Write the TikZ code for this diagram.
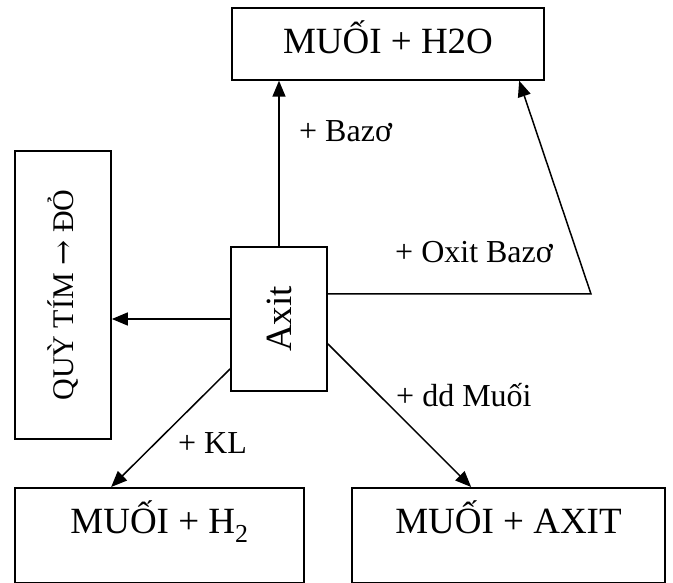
\documentclass[tikz,border=0pt]{standalone}
\usepackage{fontspec}
\setmainfont{Liberation Serif}
\newfontfamily\arrowfont{DejaVu Serif}
\usetikzlibrary{arrows.meta,calc}
\begin{document}
\begin{tikzpicture}[x=1pt,y=-1pt,
  box/.style={draw, line width=1.7pt, inner sep=0pt, font=\fontsize{37}{40}\selectfont},
  lbl/.style={font=\fontsize{32}{36}\selectfont, inner sep=0pt},
  arr/.style={line width=1.5pt, -{Triangle[length=16pt,width=13pt]}}]
\useasboundingbox (0,0) rectangle (673,583);
\node[box, minimum width=312pt, text height=46pt, text depth=26pt, anchor=north] (top) at (388,7) {MUỐI + H2O};
\node[box, minimum width=96pt, minimum height=288pt, font=\fontsize{30}{36}\selectfont] (quy) at (63,295) {\rotatebox{90}{QUỲ TÍM {\arrowfont\fontsize{30}{30}\selectfont →} ĐỎ}};
\node[box, minimum width=96pt, minimum height=144pt] (axit) at (279,319) {\rotatebox{90}{Axit}};
\node[box, minimum width=289pt, text height=46pt, text depth=49pt, anchor=north] (h2) at (159.5,487) {MUỐI + H\textsubscript{2}};
\node[box, minimum width=313pt, text height=46pt, text depth=49pt, anchor=north] (ax2) at (508.5,487) {MUỐI + AXIT};
\coordinate (c1) at (591,294);
\draw[arr] (axit.north) -- (axit.north |- top.south);
\draw[arr] (axit.west) -- (axit.west -| quy.east);
\draw[arr] ($(axit.east)+(0,-25)$) -- (c1) -- ($(top.south west)+(288,0)$);
\draw[arr] ($(axit.south west)+(0,-23)$) -- ($(h2.north west)+(97,0)$);
\draw[arr] ($(axit.south east)+(0,-48)$) -- ($(ax2.north west)+(120,0)$);
\node[lbl, anchor=base west] (lb) at (299,142) {+ Bazơ};
\node[lbl, anchor=base west] (lo) at (395,263) {+ Oxit Bazơ};
\node[lbl, anchor=base west] (lk) at (178,453) {+ KL};
\node[lbl, anchor=base west] (ld) at (396,406) {+ dd Muối};
\end{tikzpicture}
\end{document}
